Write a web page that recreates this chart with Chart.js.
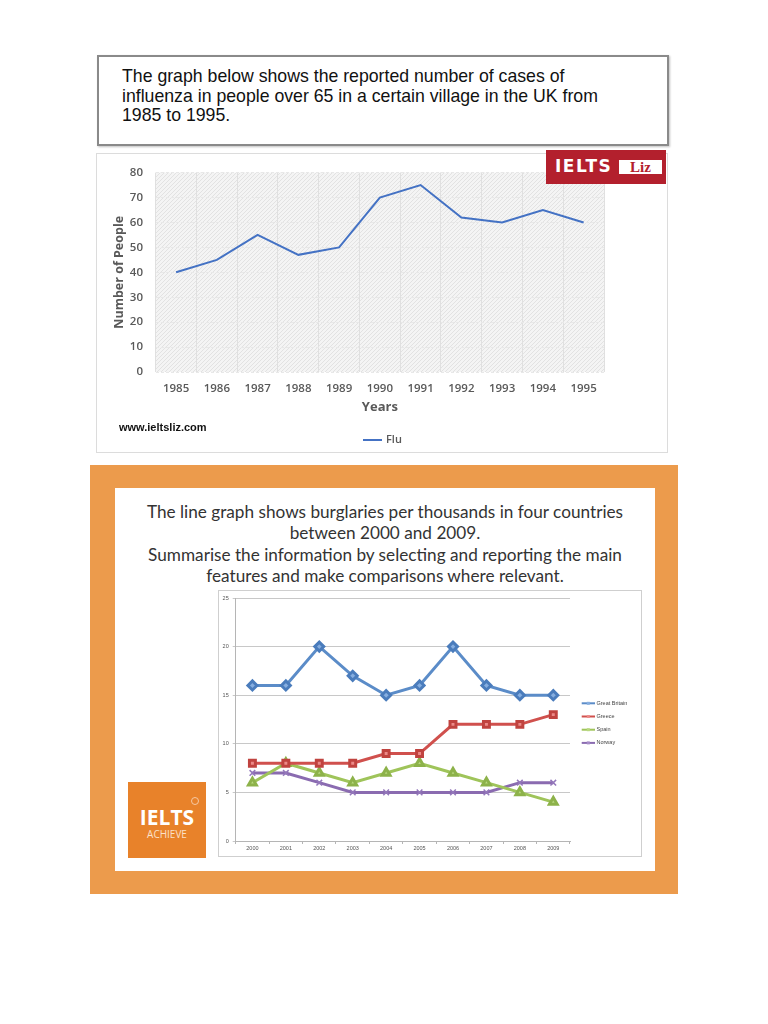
<!DOCTYPE html>
<html>
<head>
<meta charset="utf-8">
<script src="https://cdn.jsdelivr.net/npm/chart.js@4.4.1/dist/chart.umd.min.js"></script>
<style>
  html,body{margin:0;padding:0;background:#fff;}
  body{width:768px;height:1024px;position:relative;overflow:hidden;}
  .abs{position:absolute;}
  #titleBox{left:97px;top:55px;width:568px;height:87px;border:2px solid #8a8a8a;box-shadow:1px 1px 2px rgba(0,0,0,0.25);background:#fff;}
  #titleText{left:122px;top:67px;font-family:"Liberation Sans",Arial,sans-serif;font-size:17.7px;line-height:19.5px;color:#111;white-space:nowrap;}
  #frame1{left:96px;top:153px;width:572px;height:300px;border:1px solid #dcdcdc;box-sizing:border-box;}
  #c1{left:96px;top:153px;}
  #logoLiz{left:546px;top:150px;width:120px;height:34px;background:#b3202d;}
  #logoLiz .t{position:absolute;left:9px;top:6px;font-family:"DejaVu Sans",sans-serif;font-weight:bold;font-size:17px;line-height:20px;color:#fff;letter-spacing:1.5px;}
  #logoLiz .b{position:absolute;left:73px;top:10px;width:43px;height:14px;background:#fff;color:#b3202d;font-family:"Liberation Serif",serif;font-weight:bold;font-size:15px;line-height:15px;text-align:center;}
  #www{left:119px;top:421px;font-family:"Liberation Sans",Arial,sans-serif;font-weight:bold;font-size:11px;color:#111;}
  #orange{left:90px;top:465px;width:588px;height:429px;background:#ec9b4c;}
  #panel{left:115px;top:488px;width:540px;height:383px;background:#fff;}
  #text2{left:115px;top:501px;width:540px;text-align:center;font-family:"Lato",sans-serif;font-size:17.2px;line-height:21.3px;color:#333;white-space:nowrap;}
  #frame2{left:218px;top:590px;width:424px;height:267px;border:1px solid #cfcfcf;box-sizing:border-box;}
  #c2{left:218px;top:590px;}
  #logoAch{left:128px;top:782px;width:78px;height:76px;background:#e8822a;}
  #logoAch .t{position:absolute;left:0;width:78px;top:24px;text-align:center;font-family:"Open Sans",sans-serif;font-weight:bold;font-size:21px;line-height:22px;color:#fff;}
  #logoAch .s{position:absolute;left:0;width:78px;top:45px;text-align:center;font-family:"Open Sans",sans-serif;font-size:10px;color:#fbe0c8;}
  #logoAch .r{position:absolute;left:63px;top:15px;width:6px;height:6px;border-radius:50%;border:1px solid #f6c9a3;}
</style>
</head>
<body>
<div id="titleBox" class="abs"></div>
<div id="titleText" class="abs">The graph below shows the reported number of cases of<br>influenza in people over 65 in a certain village in the UK from<br>1985 to 1995.</div>
<div id="frame1" class="abs"></div>
<canvas id="c1" class="abs" width="572" height="300"></canvas>
<div id="logoLiz" class="abs"><span class="t">IELTS</span><span class="b">Liz</span></div>
<div id="www" class="abs">www.ieltsliz.com</div>

<div id="orange" class="abs"></div>
<div id="panel" class="abs"></div>
<div id="text2" class="abs">The line graph shows burglaries per thousands in four countries<br>between 2000 and 2009.<br>Summarise the information by selecting and reporting the main<br>features and make comparisons where relevant.</div>
<div id="frame2" class="abs"></div>
<canvas id="c2" class="abs" width="424" height="267"></canvas>
<div id="logoAch" class="abs"><span class="r"></span><div class="t">IELTS</div><div class="s">ACHIEVE</div></div>

<script>
// ---------- Data: chart 1 ----------
const fluYears = ['1985','1986','1987','1988','1989','1990','1991','1992','1993','1994','1995'];
const fluValues = [40, 45, 55, 47, 50, 70, 75, 62, 60, 65, 60];
const fluLabel = 'Flu';
const fluTicks = [0, 10, 20, 30, 40, 50, 60, 70, 80];

// ---------- Data: chart 2 ----------
const burgYears = ['2000','2001','2002','2003','2004','2005','2006','2007','2008','2009'];
const greatBritain = [16, 16, 20, 17, 15, 16, 20, 16, 15, 15];
const greece = [8, 8, 8, 8, 9, 9, 12, 12, 12, 13];
const spain = [6, 8, 7, 6, 7, 8, 7, 6, 5, 4];
const norway = [7, 7, 6, 5, 5, 5, 5, 5, 6, 6];
const burgSeriesNames = ['Great Britain', 'Greece', 'Spain', 'Norway'];
const burgTicks = [0, 5, 10, 15, 20, 25];

Chart.defaults.animation = false;
Chart.defaults.responsive = false;

// hatched background for chart 1
function makePattern() {
  const p = document.createElement('canvas');
  p.width = 4; p.height = 4;
  const g = p.getContext('2d');
  g.fillStyle = '#f4f4f4';
  g.fillRect(0, 0, 4, 4);
  g.strokeStyle = '#e2e2e2';
  g.lineWidth = 1;
  g.beginPath();
  g.moveTo(0, 4); g.lineTo(4, 0);
  g.moveTo(-1, 1); g.lineTo(1, -1);
  g.moveTo(3, 5); g.lineTo(5, 3);
  g.stroke();
  return g.createPattern(p, 'repeat');
}

const hatchBg = {
  id: 'hatchBg',
  beforeDraw(chart) {
    const {ctx, chartArea: a} = chart;
    ctx.save();
    ctx.fillStyle = makePattern();
    ctx.fillRect(a.left, a.top, a.right - a.left, a.bottom - a.top);
    ctx.restore();
  }
};

const legend1 = {
  id: 'legend1',
  afterDraw(chart) {
    const ctx = chart.ctx;
    const ds = chart.data.datasets[0];
    ctx.save();
    ctx.strokeStyle = ds.borderColor;
    ctx.lineWidth = 2;
    ctx.beginPath();
    ctx.moveTo(267, 287); ctx.lineTo(286, 287);
    ctx.stroke();
    ctx.fillStyle = '#595959';
    ctx.font = '600 11px "Open Sans"';
    ctx.textBaseline = 'middle';
    ctx.fillText(ds.label, 290, 287);
    ctx.restore();
  }
};

new Chart(document.getElementById('c1'), {
  type: 'line',
  data: {
    labels: fluYears,
    datasets: [{
      label: fluLabel,
      data: fluValues,
      borderColor: '#4472c4',
      borderWidth: 2,
      pointRadius: 0,
      tension: 0,
      fill: false
    }]
  },
  options: {
    layout: { padding: { left: 0, top: 12.7, right: 64, bottom: 0 } },
    plugins: { legend: { display: false }, tooltip: { enabled: false } },
    scales: {
      x: {
        offset: true,
        grid: { offset: true, color: '#e0e0e0', drawTicks: false },
        border: { display: false },
        ticks: { color: '#595959', font: { family: 'Open Sans', size: 11.5, weight: '600' }, padding: 9.4, maxRotation: 0 },
        title: { display: true, text: 'Years', color: '#595959', font: { family: 'Open Sans', size: 13, weight: 'bold' }, padding: { top: 0, bottom: 38 } },
        afterFit(s) { s.height = 81; }
      },
      y: {
        min: 0, max: 80,
        afterBuildTicks(s) { s.ticks = fluTicks.map(v => ({ value: v })); },
        grid: { color: '#e8e8e8', drawTicks: false },
        border: { display: false, dash: [3, 2] },
        ticks: { color: '#595959', font: { family: 'Open Sans', size: 11.5, weight: '600' }, padding: 12.7 },
        title: { display: true, text: 'Number of People', color: '#595959', font: { family: 'Open Sans', size: 12.5, weight: 'bold' }, padding: { top: 15.5, bottom: 0 } },
        afterFit(s) { s.width = 59.7; }
      }
    }
  },
  plugins: [hatchBg, legend1]
});

// ---------- chart 2 ----------
const legend2 = {
  id: 'legend2',
  afterDraw(chart) {
    const ctx = chart.ctx;
    ctx.save();
    chart.data.datasets.forEach((ds, i) => {
      const y = 113.3 + i * 13.2;
      ctx.strokeStyle = ds.borderColor;
      ctx.lineWidth = 2;
      ctx.beginPath();
      ctx.moveTo(363.7, y); ctx.lineTo(377, y);
      ctx.stroke();
      ctx.fillStyle = ds.pointBackgroundColor;
      ctx.fillRect(368.8, y - 1.5, 3, 3);
      ctx.fillStyle = '#444';
      ctx.font = '5.5px "Liberation Sans"';
      ctx.textBaseline = 'middle';
      ctx.fillText(ds.label, 378.5, y);
    });
    ctx.restore();
  }
};

const tickFont2 = { family: 'Liberation Sans', size: 5.5 };

new Chart(document.getElementById('c2'), {
  type: 'line',
  data: {
    labels: burgYears,
    datasets: [
      { label: burgSeriesNames[0], data: greatBritain, borderColor: '#5b8cc8', pointBackgroundColor: '#86aee0', pointBorderColor: '#4a7cbc', pointStyle: 'rectRot', pointRadius: 4.5, borderWidth: 3, tension: 0 },
      { label: burgSeriesNames[1], data: greece, borderColor: '#d0504d', pointBackgroundColor: '#ec8a88', pointBorderColor: '#c0433f', pointStyle: 'rect', pointRadius: 4.2, borderWidth: 3, tension: 0 },
      { label: burgSeriesNames[2], data: spain, borderColor: '#9fc45a', pointBackgroundColor: '#b9d97f', pointBorderColor: '#8db24a', pointStyle: 'triangle', pointRadius: 4.5, borderWidth: 3, tension: 0 },
      { label: burgSeriesNames[3], data: norway, borderColor: '#8a6bb0', pointBackgroundColor: '#a68cc8', pointBorderColor: '#9478bb', pointStyle: 'crossRot', pointRadius: 4, borderWidth: 3, pointBorderWidth: 1.5, tension: 0 }
    ]
  },
  options: {
    layout: { padding: { left: 0, top: 8, right: 72, bottom: 0 } },
    plugins: { legend: { display: false }, tooltip: { enabled: false } },
    scales: {
      x: {
        offset: true,
        grid: { offset: true, drawOnChartArea: false, drawTicks: true, tickLength: 3, color: '#b5b5b5' },
        border: { display: true, color: '#b5b5b5' },
        ticks: { color: '#555', font: tickFont2, padding: 1.5, maxRotation: 0 },
        afterFit(s) { s.height = 16; }
      },
      y: {
        min: 0, max: 25,
        afterBuildTicks(s) { s.ticks = burgTicks.map(v => ({ value: v })); },
        grid: { color: '#c8c8c8', drawTicks: true, tickLength: 3 },
        border: { display: true, color: '#b5b5b5' },
        ticks: { color: '#555', font: tickFont2, padding: 4 },
        afterFit(s) { s.width = 17.7; }
      }
    }
  },
  plugins: [legend2]
});
</script>
</body>
</html>
